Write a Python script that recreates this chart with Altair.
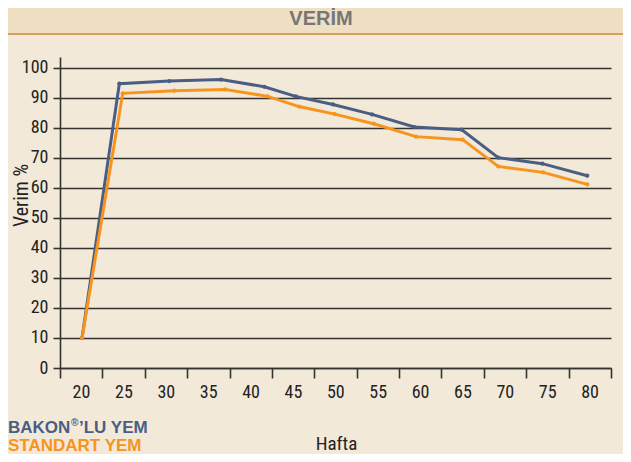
import altair as alt
import pandas as pd

# ---- data ----
series_names = ["BAKON®’LU YEM", "STANDART YEM"]
series_colors = ["#4a5e83", "#f7941d"]
legend_parts = ["BAKON", "®", "’LU YEM"]   # first legend entry, drawn with a superscript mark

weeks_bakon = [20.1, 24.5, 30.4, 36.5, 41.6, 45.3, 49.7, 54.3, 59.3, 64.9, 69.2, 74.4, 79.7]
verim_bakon = [10, 94.6, 95.5, 96.0, 93.6, 90.4, 87.7, 84.4, 80.2, 79.3, 70.0, 68.0, 64.0]

weeks_std = [20.1, 24.9, 31.0, 37.0, 42.0, 45.7, 49.9, 54.5, 59.5, 65.0, 69.2, 74.5, 79.7]
verim_std = [10, 91.4, 92.3, 92.7, 90.4, 87.0, 84.5, 81.3, 77.0, 76.0, 67.1, 65.1, 61.1]

x_tick_bounds = [17.5 + 5 * i for i in range(14)]   # category boundaries 17.5 ... 82.5
y_ticks = list(range(0, 101, 10))

title_text = "VERİM"
x_title = "Hafta"
y_title = "Verim %"

FONT = "Liberation Sans Narrow, Roboto Condensed, Liberation Sans, Arial, sans-serif"
BOLD_FONT = "Liberation Sans, Arial, sans-serif"
INK = "#35332f"

df = pd.DataFrame({
    "Hafta": weeks_bakon + weeks_std,
    "Verim": verim_bakon + verim_std,
    "Seri": [series_names[0]] * len(weeks_bakon) + [series_names[1]] * len(weeks_std),
})

one = pd.DataFrame({"a": [0]})

color = alt.Color("Seri:N", scale=alt.Scale(domain=series_names, range=series_colors), legend=None)

lines = alt.Chart(df).mark_line(strokeWidth=3, point=alt.OverlayMarkDef(size=18, filled=True)).encode(
    x=alt.X("Hafta:Q",
            scale=alt.Scale(domain=[17.5, 82.5], nice=False, zero=False),
            axis=alt.Axis(values=x_tick_bounds,
                          labelExpr="datum.value < 82 ? format(datum.value + 2.5, 'd') : ''",
                          labelOffset=21, labelPadding=5, labelFlush=False, labelOverlap=False,
                          tickSize=10, grid=False,
                          title=x_title, titleX=276, titleY=75, titleBaseline="middle",
                          titleFontWeight="normal", titleFontSize=19, titleFont=FONT)),
    y=alt.Y("Verim:Q",
            scale=alt.Scale(domain=[0, 103.5], nice=False),
            axis=alt.Axis(values=y_ticks, tickSize=7, labelPadding=5, grid=True,
                          title=y_title, titleX=-39, titleY=138, titleAngle=-90,
                          titleAlign="center", titleBaseline="middle",
                          titleFontWeight="normal", titleFontSize=20, titleFont=FONT)),
    color=color,
    order=alt.Order("Hafta:Q"),
)

header = alt.Chart(one).mark_rect(color="#efdfc3").encode(
    x=alt.value(-52), x2=alt.value(563), y=alt.value(-49), y2=alt.value(-24)
)
border = alt.Chart(one).mark_rule(color="#d49d62", strokeWidth=2).encode(
    x=alt.value(-52), x2=alt.value(563), y=alt.value(-23)
)
title = alt.Chart(one).mark_text(
    text=title_text, font=BOLD_FONT, fontSize=20, fontWeight="bold", color="#777777",
    align="center", baseline="middle"
).encode(x=alt.value(261), y=alt.value(-38))

leg1a = alt.Chart(one).mark_text(
    text=legend_parts[0], font=BOLD_FONT, fontSize=17, fontWeight="bold", color=series_colors[0],
    align="left", baseline="alphabetic"
).encode(x=alt.value(-52), y=alt.value(376))
leg1b = alt.Chart(one).mark_text(
    text=legend_parts[1], font=BOLD_FONT, fontSize=10, fontWeight="bold", color=series_colors[0],
    align="left", baseline="alphabetic"
).encode(x=alt.value(11), y=alt.value(369))
leg1c = alt.Chart(one).mark_text(
    text=legend_parts[2], font=BOLD_FONT, fontSize=17, fontWeight="bold", color=series_colors[0],
    align="left", baseline="alphabetic"
).encode(x=alt.value(19), y=alt.value(376))
leg2 = alt.Chart(one).mark_text(
    text=series_names[1], font=BOLD_FONT, fontSize=17, fontWeight="bold", color=series_colors[1],
    align="left", baseline="alphabetic"
).encode(x=alt.value(-52), y=alt.value(394))

chart = alt.layer(header, border, title, lines, leg1a, leg1b, leg1c, leg2).properties(
    width=551, height=311,
    autosize=alt.AutoSizeParams(type="none"),
    padding={"left": 52, "top": 49, "right": 12, "bottom": 86},
).configure(background="#f3e9d9").configure_view(strokeWidth=0).configure_axis(
    labelFont=FONT, labelFontSize=18, labelColor="#222222",
    domainColor=INK, domainWidth=1.6, tickColor=INK, tickWidth=1.6,
    gridColor=INK, gridWidth=1.6, gridOpacity=1, titleColor="#222222",
)

chart.save("out.html", embed_options={"renderer": "svg", "actions": False})
